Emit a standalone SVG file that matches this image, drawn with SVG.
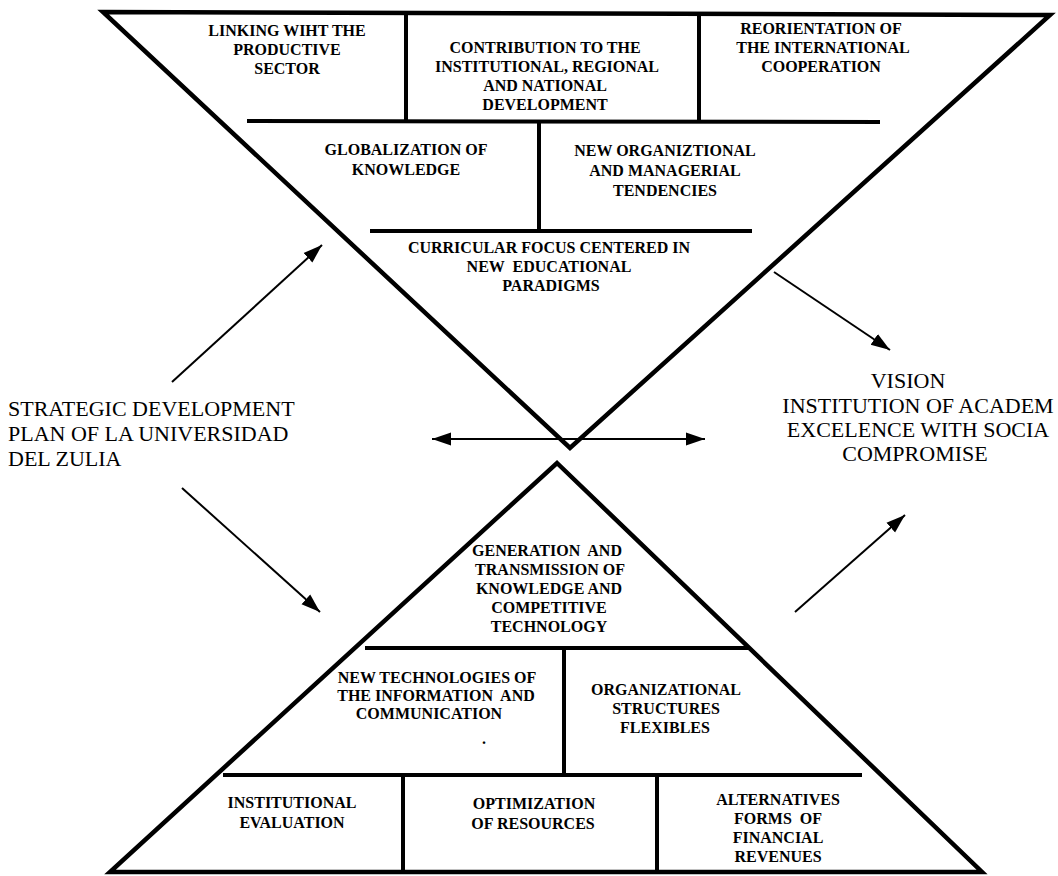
<svg xmlns="http://www.w3.org/2000/svg" width="1058" height="876" viewBox="0 0 1058 876">
<style>
.edge{fill:none;stroke:#000;stroke-width:4.5;stroke-linejoin:miter}
.div{stroke:#000;stroke-width:4;fill:none}
.arr{stroke:#000;stroke-width:2;fill:none}
.lbl{font-family:"Liberation Serif","Times New Roman",serif;font-weight:bold;font-size:16px;fill:#000;text-anchor:middle}
.big{font-family:"Liberation Serif","Times New Roman",serif;font-size:22px;fill:#000}
</style>
<defs>
<marker id="ah" markerUnits="userSpaceOnUse" markerWidth="22" markerHeight="16" refX="19" refY="8" orient="auto-start-reverse">
<path d="M0,1.5 L19,8 L0,14.5 Z" fill="#000"/>
</marker>
</defs>
<rect width="1058" height="876" fill="#fff"/>

<g id="top-triangle">
<polygon class="edge" points="103,12 1050,15 570,448"/>
<line class="div" x1="406" y1="13" x2="406" y2="121"/>
<line class="div" x1="699" y1="14" x2="699" y2="122"/>
<line class="div" x1="247" y1="121" x2="880" y2="122"/>
<line class="div" x1="539" y1="122" x2="539" y2="231"/>
<line class="div" x1="370" y1="231" x2="752" y2="231"/>
</g>

<g id="node-linking">
<text class="lbl"><tspan x="287" y="36">LINKING WIHT THE</tspan><tspan x="287" y="55">PRODUCTIVE</tspan><tspan x="287" y="74">SECTOR</tspan></text>
</g>
<g id="node-contribution">
<text class="lbl"><tspan x="545" y="53">CONTRIBUTION TO THE</tspan><tspan x="547" y="72">INSTITUTIONAL, REGIONAL</tspan><tspan x="545" y="91">AND NATIONAL</tspan><tspan x="545" y="110">DEVELOPMENT</tspan></text>
</g>
<g id="node-reorientation">
<text class="lbl"><tspan x="821" y="34">REORIENTATION OF</tspan><tspan x="823" y="53">THE INTERNATIONAL</tspan><tspan x="821" y="72">COOPERATION</tspan></text>
</g>
<g id="node-globalization">
<text class="lbl"><tspan x="406" y="155">GLOBALIZATION OF</tspan><tspan x="406" y="175">KNOWLEDGE</tspan></text>
</g>
<g id="node-organiztional">
<text class="lbl"><tspan x="665" y="156">NEW ORGANIZTIONAL</tspan><tspan x="665" y="176">AND MANAGERIAL</tspan><tspan x="665" y="196">TENDENCIES</tspan></text>
</g>
<g id="node-curricular">
<text class="lbl"><tspan x="549" y="253">CURRICULAR FOCUS CENTERED IN</tspan><tspan x="549" y="272" xml:space="preserve">NEW  EDUCATIONAL</tspan><tspan x="551" y="291">PARADIGMS</tspan></text>
</g>

<g id="bottom-triangle">
<polygon class="edge" points="557,463 982,872 110,872"/>
<line class="div" x1="365" y1="648" x2="748" y2="648"/>
<line class="div" x1="564" y1="648" x2="564" y2="775"/>
<line class="div" x1="223" y1="775" x2="862" y2="775"/>
<line class="div" x1="403" y1="775" x2="403" y2="872"/>
<line class="div" x1="657" y1="775" x2="657" y2="872"/>
</g>

<g id="node-generation">
<text class="lbl"><tspan x="547" y="556" xml:space="preserve">GENERATION  AND</tspan><tspan x="550" y="575">TRANSMISSION OF</tspan><tspan x="549" y="594">KNOWLEDGE AND</tspan><tspan x="549" y="613">COMPETITIVE</tspan><tspan x="549" y="632">TECHNOLOGY</tspan></text>
</g>
<g id="node-newtech">
<text class="lbl"><tspan x="437" y="683">NEW TECHNOLOGIES OF</tspan><tspan x="436" y="701" xml:space="preserve">THE INFORMATION  AND</tspan><tspan x="429" y="719">COMMUNICATION</tspan></text>
<text class="lbl" x="484" y="744">.</text>
</g>
<g id="node-orgstruct">
<text class="lbl"><tspan x="666" y="695">ORGANIZATIONAL</tspan><tspan x="666" y="714">STRUCTURES</tspan><tspan x="665" y="733">FLEXIBLES</tspan></text>
</g>
<g id="node-evaluation">
<text class="lbl"><tspan x="292" y="808">INSTITUTIONAL</tspan><tspan x="292" y="828">EVALUATION</tspan></text>
</g>
<g id="node-optimization">
<text class="lbl"><tspan x="534" y="809">OPTIMIZATION</tspan><tspan x="533" y="829">OF RESOURCES</tspan></text>
</g>
<g id="node-alternatives">
<text class="lbl"><tspan x="778" y="805">ALTERNATIVES</tspan><tspan x="778" y="824" xml:space="preserve">FORMS  OF</tspan><tspan x="778" y="843">FINANCIAL</tspan><tspan x="778" y="862">REVENUES</tspan></text>
</g>

<g id="node-plan">
<text class="big"><tspan x="8" y="416">STRATEGIC DEVELOPMENT</tspan><tspan x="8" y="441">PLAN OF LA UNIVERSIDAD</tspan><tspan x="8" y="466">DEL ZULIA</tspan></text>
</g>
<g id="node-vision">
<text class="big" text-anchor="middle"><tspan x="908" y="388">VISION</tspan><tspan x="918" y="413">INSTITUTION OF ACADEM</tspan><tspan x="918" y="437">EXCELENCE WITH SOCIA</tspan><tspan x="915" y="461">COMPROMISE</tspan></text>
</g>

<g id="connectors">
<line class="arr" x1="172" y1="382" x2="322" y2="245" marker-end="url(#ah)"/>
<line class="arr" x1="182" y1="488" x2="320" y2="612" marker-end="url(#ah)"/>
<line class="arr" x1="774" y1="272" x2="890" y2="350" marker-end="url(#ah)"/>
<line class="arr" x1="795" y1="612" x2="905" y2="515" marker-end="url(#ah)"/>
<line class="arr" x1="432" y1="439" x2="705" y2="439" marker-start="url(#ah)" marker-end="url(#ah)"/>
</g>
</svg>
